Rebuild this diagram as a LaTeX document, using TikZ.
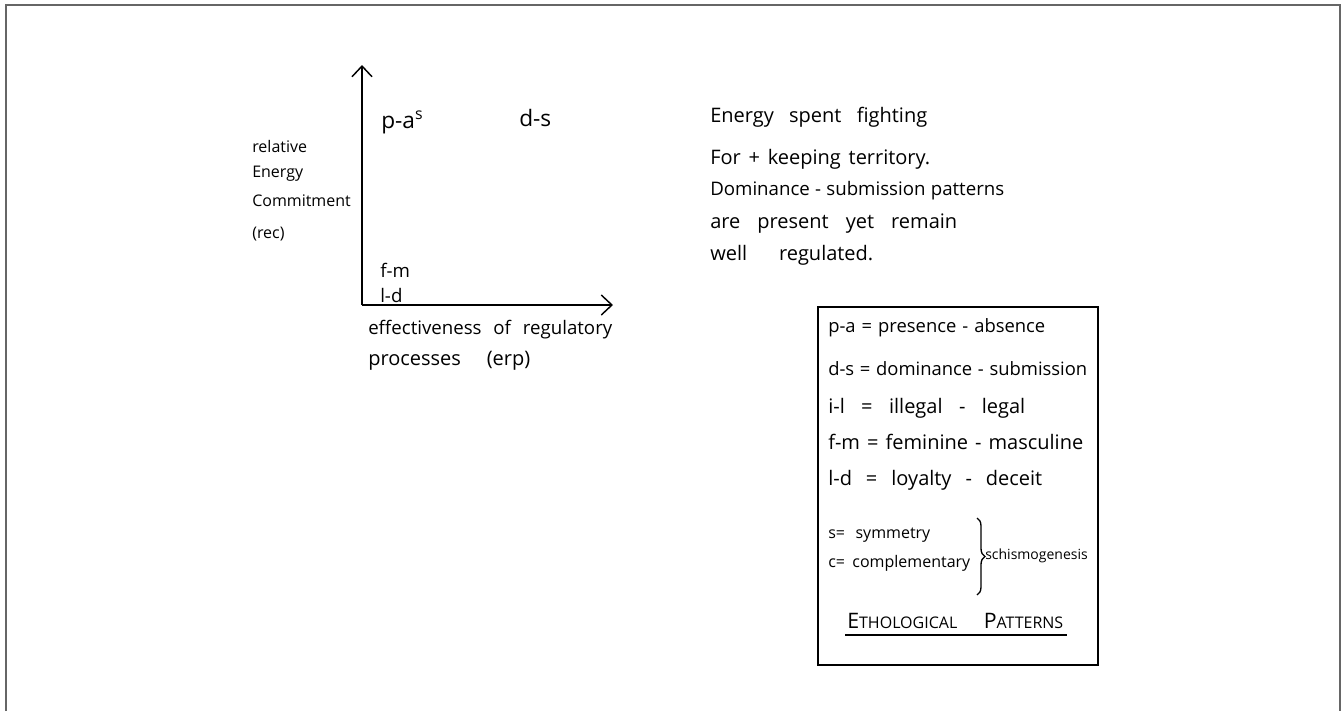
\documentclass[tikz,border=0pt]{standalone}
\usepackage{fontspec}
\setmainfont{Open Sans}
\usetikzlibrary{arrows.meta,positioning,decorations.pathreplacing}

% one pixel of the sheet, and a line set to a given width in pixels
\newlength\pxunit
\setlength\pxunit{0.75pt}
\newcommand\spread[2]{\makebox[#1\pxunit][s]{#2}}

\begin{document}
\begin{tikzpicture}[
  x=0.75pt,
  y=-0.75pt,
  hand/.style={
    inner sep=0pt,
    anchor=base west
  },
  plotlabel/.style={hand,font=\fontsize{17}{19}\selectfont},
  note/.style={hand,font=\fontsize{15}{18}\selectfont},
  key/.style={hand,font=\fontsize{15}{18}\selectfont},
  small/.style={hand,font=\fontsize{12}{14}\selectfont},
  axis/.style={line width=1.1pt,-{Straight Barb[length=8pt,width=15pt]}},
  frame/.style={line width=1.5pt,draw=black!60}
]
\useasboundingbox (0,0) rectangle (1343,711);
\draw[frame] (6,711) -- (6,5) -- (1340,5) -- (1340,711);

% graph
\coordinate (o) at (362,305);
\coordinate (ytip) at (362,65);
\coordinate (xtip) at (613,305);
\draw[axis] (o) -- (ytip);
\draw[axis] (o) -- (xtip);

\node[plotlabel] (pa) at (381,128) {p-a\textsuperscript{s}};
\node[plotlabel] (ds) at (519,126) {d-s};
\node[plotlabel,font=\fontsize{14}{16}\selectfont] (fm) at (380,277) {f-m};
\node[plotlabel,font=\fontsize{14}{16}\selectfont] (ld) at (380,302) {l-d};

\node[small] (rec1) at (252,152) {relative};
\node[small] (rec2) at (252,177) {Energy};
\node[small] (rec3) at (252,206) {Commitment};
\node[small] (rec4) at (252,238) {(rec)};

\node[note,font=\fontsize{14}{17}\selectfont] (erp1) at (368,334) {\spread{244}{effectiveness of regulatory}};
\node[note] (erp2) at (368,365) {\spread{162}{processes (erp)}};

% comment on the graph
\node[note] (n1) at (710,122) {\spread{217}{Energy spent fighting}};
\node[note] (n2) at (710,164) {\spread{220}{For + keeping territory.}};
\node[note,font=\fontsize{14}{17}\selectfont] (n3) at (710,195) {\spread{294}{Dominance - submission patterns}};
\node[note] (n4) at (710,228) {\spread{247}{are present yet remain}};
\node[note] (n5) at (710,260) {\spread{163}{well regulated.}};

% legend
\coordinate (lnw) at (818,307);
\coordinate (lse) at (1098,665);
\draw[line width=1.3pt] (lnw) rectangle (lse);

\node[key,font=\fontsize{13.8}{17}\selectfont] (k1) at (828,332) {\spread{217}{p-a = presence - absence}};
\node[key,font=\fontsize{13.8}{17}\selectfont] (k2) at (828,375) {\spread{259}{d-s = dominance - submission}};
\node[key] (k3) at (828,413) {\spread{197}{i-l = illegal - legal}};
\node[key] (k4) at (828,449) {\spread{255}{f-m = feminine - masculine}};
\node[key] (k5) at (828,485) {\spread{214}{l-d = loyalty - deceit}};

\node[small] (sym) at (828,538) {\spread{102}{s= symmetry}};
\node[small] (comp) at (828,567) {\spread{142}{c= complementary}};
\coordinate (btop) at (977,518);
\coordinate (bbot) at (977,595);
\draw[line width=1pt,decorate,decoration={brace,amplitude=6pt}] (btop) -- (bbot);
\node[small,font=\fontsize{10.5}{12}\selectfont] (schism) at (985,559) {schismogenesis};

\node[hand,font=\fontsize{16}{18}\selectfont] (title) at (847,628)
  {\spread{216}{E{\fontsize{12}{14}\selectfont THOLOGICAL} P{\fontsize{12}{14}\selectfont ATTERNS}}};
\coordinate (ulw) at (845,635);
\coordinate (ule) at (1067,635);
\draw[line width=1.1pt] (ulw) -- (ule);
\end{tikzpicture}
\end{document}
